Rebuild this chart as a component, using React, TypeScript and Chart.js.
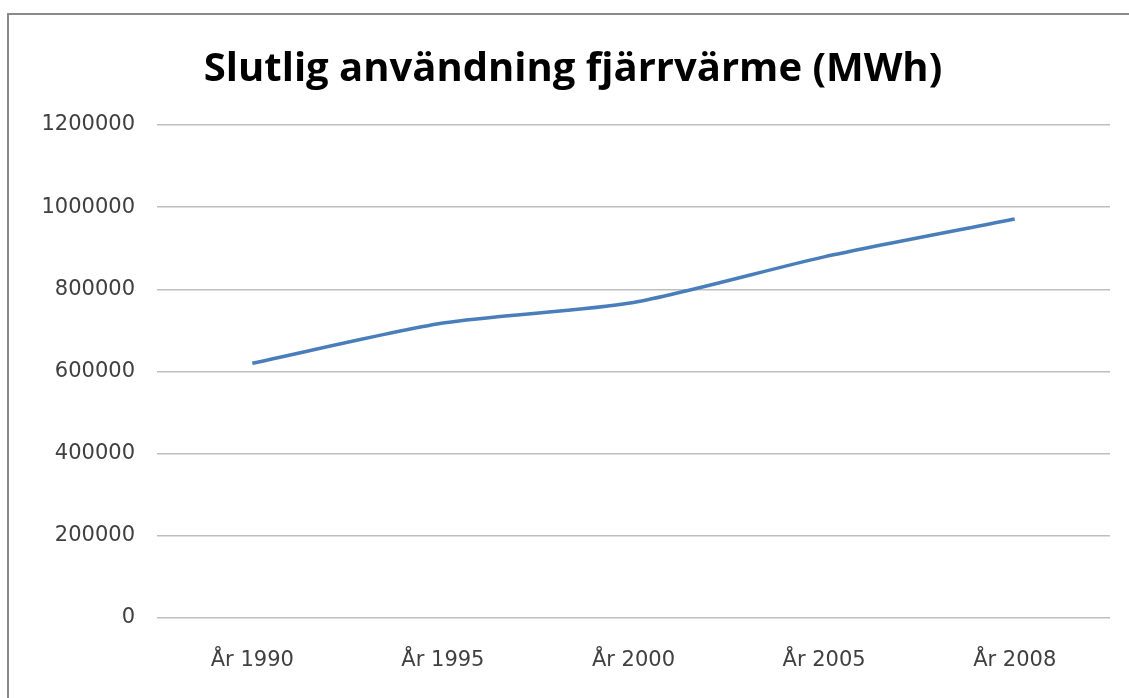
import React, { useEffect, useRef } from "react";
import { Chart, registerables } from "chart.js";

Chart.register(...registerables);

const categories = ["År 1990", "År 1995", "År 2000", "År 2005", "År 2008"];
const values = [620000, 718000, 768000, 879000, 971000];
const titleText = "Slutlig användning fjärrvärme (MWh)";

export default function App() {
  const ref = useRef<HTMLCanvasElement | null>(null);
  useEffect(() => {
    if (!ref.current) return;
    const chart = new Chart(ref.current, {
      type: "line",
      data: {
        labels: categories,
        datasets: [
          {
            data: values,
            borderColor: "#4a7ebb",
            borderWidth: 3.5,
            pointRadius: 0,
            tension: 0.25,
            fill: false,
          },
        ],
      },
      options: {
        responsive: false,
        animation: false,
        layout: { padding: { left: 36, right: 19, top: 20, bottom: 28 } },
        plugins: {
          legend: { display: false },
          tooltip: { enabled: false },
          title: {
            display: true,
            text: titleText,
            color: "#000000",
            font: { family: "'Open Sans'", size: 40, weight: "bold" },
            padding: { top: 26, bottom: 31 },
          },
        },
        scales: {
          x: {
            offset: true,
            grid: { display: false, drawTicks: false, offset: true },
            border: { display: false },
            ticks: {
              color: "#404040",
              font: { family: "'DejaVu Sans'", size: 21 },
              padding: 30,
              maxRotation: 0,
            },
            afterFit: (s: any) => {
              s.height = 52;
            },
          },
          y: {
            min: 0,
            max: 1200000,
            grid: { color: "#bfbfbf", lineWidth: 1.5, drawTicks: false },
            border: { display: false },
            ticks: {
              stepSize: 200000,
              color: "#404040",
              font: { family: "'DejaVu Sans'", size: 21 },
              padding: 22,
              callback: (v: any) => String(v),
            },
            afterFit: (s: any) => {
              s.width = 121;
            },
          },
        },
      },
    });
    return () => chart.destroy();
  }, []);
  return (
    <div style={{ position: "fixed", left: 0, top: 0, width: 1129, height: 698, background: "#fff", overflow: "hidden" }}>
      <div
        style={{
          position: "absolute",
          left: 7,
          top: 13,
          width: 1140,
          height: 700,
          border: "2px solid #8a8a8a",
        }}
      />
      <canvas ref={ref} width={1129} height={698} style={{ position: "absolute", left: 0, top: 0 }} />
    </div>
  );
}
